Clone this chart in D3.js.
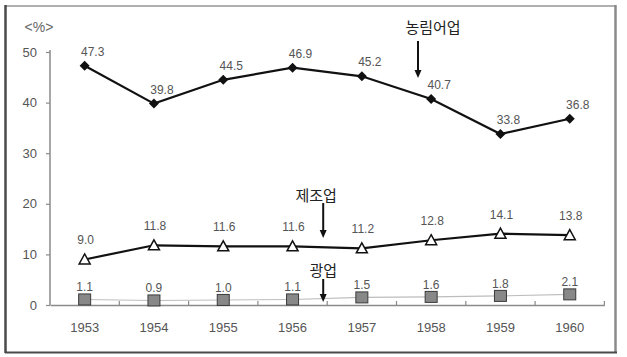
<!DOCTYPE html>
<html><head><meta charset="utf-8">
<script src="https://cdn.jsdelivr.net/npm/d3@7"></script>
<style>
html,body{margin:0;padding:0;background:#fff;}
svg{display:block;}
</style></head>
<body>
<svg id="c" width="627" height="357"></svg>
<script>
const years = ["1953","1954","1955","1956","1957","1958","1959","1960"];
const agriculture = [47.3, 39.8, 44.5, 46.9, 45.2, 40.7, 33.8, 36.8];
const manufacturing = [9.0, 11.8, 11.6, 11.6, 11.2, 12.8, 14.1, 13.8];
const mining = [1.1, 0.9, 1.0, 1.1, 1.5, 1.6, 1.8, 2.1];
const yTicks = [0, 10, 20, 30, 40, 50];
const seriesNames = ["농림어업", "제조업", "광업"];
const unitLabel = "<%>";

const svg = d3.select("#c");
const numFont = "'Liberation Sans', Arial, sans-serif";
const korFont = "'Noto Sans CJK KR', 'Noto Sans', sans-serif";

// frame
svg.append("rect").attr("x",0).attr("y",0).attr("width",627).attr("height",357).attr("fill","#fff");
svg.append("line").attr("x1",5).attr("x2",616).attr("y1",6).attr("y2",6).attr("stroke","#b0b0b0").attr("stroke-width",2);
svg.append("line").attr("x1",615.5).attr("x2",615.5).attr("y1",5).attr("y2",353).attr("stroke","#8a8a8a").attr("stroke-width",2.5);
svg.append("line").attr("x1",5.5).attr("x2",5.5).attr("y1",5).attr("y2",353).attr("stroke","#4a4a4a").attr("stroke-width",2.5);
svg.append("line").attr("x1",5).attr("x2",617).attr("y1",352.5).attr("y2",352.5).attr("stroke","#4a4a4a").attr("stroke-width",2);

const x = d3.scaleBand().domain(years).range([50, 604.4]).padding(0);
const y = d3.scaleLinear().domain([0, 50]).range([305, 52]);
const cx = d => x(d) + x.bandwidth()/2;

// y axis
const yAxis = svg.append("g").attr("transform","translate(50,0)")
  .call(d3.axisLeft(y).tickValues(yTicks).tickSize(4).tickSizeOuter(0).tickPadding(9));
yAxis.select(".domain").attr("stroke","#8a8a8a").attr("stroke-width",1.5).attr("d","M0,"+y(0)+"V"+(y(50)-2));
yAxis.selectAll(".tick line").attr("stroke","#8a8a8a").attr("stroke-width",1.2);
yAxis.selectAll(".tick text").attr("font-family",numFont).attr("font-size",13).attr("fill","#555");

// x axis
const xAxis = svg.append("g").attr("transform","translate(0,305)")
  .call(d3.axisBottom(x).tickSize(0).tickSizeOuter(0).tickPadding(18));
xAxis.select(".domain").attr("stroke","#8a8a8a").attr("stroke-width",1.5);
xAxis.selectAll(".tick text").attr("font-family",numFont).attr("font-size",13).attr("fill","#555");
// band boundary ticks (upward)
svg.append("g").selectAll("line").data(years).join("line")
  .attr("x1", d => x(d) + x.bandwidth()).attr("x2", d => x(d) + x.bandwidth())
  .attr("y1", 305).attr("y2", 301).attr("stroke","#8a8a8a").attr("stroke-width",1.2);

// unit label
svg.append("text").attr("x",39).attr("y",32).attr("text-anchor","middle")
  .attr("font-family",numFont).attr("font-size",14).attr("fill","#666").text(unitLabel);

const line = d3.line().x((d,i) => cx(years[i])).y(d => y(d));

// mining
svg.append("path").datum(mining).attr("d",line).attr("fill","none").attr("stroke","#bdbdbd").attr("stroke-width",1.1);
svg.append("g").selectAll("rect").data(mining).join("rect")
  .attr("x",(d,i)=>cx(years[i])-6).attr("y",d=>y(d)-5.5).attr("width",12).attr("height",11)
  .attr("fill","#888").attr("stroke","#3a3a3a").attr("stroke-width",1);
svg.append("g").selectAll("text").data(mining).join("text")
  .attr("x",(d,i)=>cx(years[i])).attr("y",d=>y(d)-8).attr("text-anchor","middle")
  .attr("font-family",numFont).attr("font-size",12).attr("fill","#555").text(d=>d.toFixed(1));

// manufacturing
svg.append("path").datum(manufacturing).attr("d",line).attr("fill","none").attr("stroke","#111").attr("stroke-width",2.2);
svg.append("g").selectAll("path").data(manufacturing).join("path")
  .attr("d",(d,i)=>{const px=cx(years[i]), py=y(d); return `M${px},${py-5.5}L${px+5.5},${py+4.5}L${px-5.5},${py+4.5}Z`;})
  .attr("fill","#fff").attr("stroke","#111").attr("stroke-width",1.5);
svg.append("g").selectAll("text").data(manufacturing).join("text")
  .attr("x",(d,i)=>cx(years[i])+1).attr("y",d=>y(d)-15).attr("text-anchor","middle")
  .attr("font-family",numFont).attr("font-size",12).attr("fill","#555").text(d=>d.toFixed(1));

// agriculture
svg.append("path").datum(agriculture).attr("d",line).attr("fill","none").attr("stroke","#111").attr("stroke-width",2.2);
svg.append("g").selectAll("path").data(agriculture).join("path")
  .attr("d",(d,i)=>{const px=cx(years[i]), py=y(d); return `M${px},${py-5}L${px+5},${py}L${px},${py+5}L${px-5},${py}Z`;})
  .attr("fill","#111");
svg.append("g").selectAll("text").data(agriculture).join("text")
  .attr("x",(d,i)=>cx(years[i])+8).attr("y",d=>y(d)-10).attr("text-anchor","middle")
  .attr("font-family",numFont).attr("font-size",12).attr("fill","#555").text(d=>d.toFixed(1));

// annotations with arrows
function arrow(x0, y0, y1){
  svg.append("line").attr("x1",x0).attr("x2",x0).attr("y1",y0).attr("y2",y1-7).attr("stroke","#111").attr("stroke-width",2);
  svg.append("path").attr("d",`M${x0-3.5},${y1-8}L${x0+3.5},${y1-8}L${x0},${y1}Z`).attr("fill","#111");
}
const boundary56 = x("1956") + x.bandwidth();
svg.append("text").attr("x",433).attr("y",33).attr("text-anchor","middle")
  .attr("font-family",korFont).attr("font-size",15).attr("fill","#222").text(seriesNames[0]);
arrow(418, 41, 78);
svg.append("text").attr("x",boundary56-11).attr("y",201).attr("text-anchor","middle")
  .attr("font-family",korFont).attr("font-size",15).attr("fill","#222").text(seriesNames[1]);
arrow(boundary56-4, 203, 238);
svg.append("text").attr("x",boundary56-4).attr("y",276).attr("text-anchor","middle")
  .attr("font-family",korFont).attr("font-size",15).attr("fill","#222").text(seriesNames[2]);
arrow(boundary56-4, 279, 302);
</script>
</body></html>
